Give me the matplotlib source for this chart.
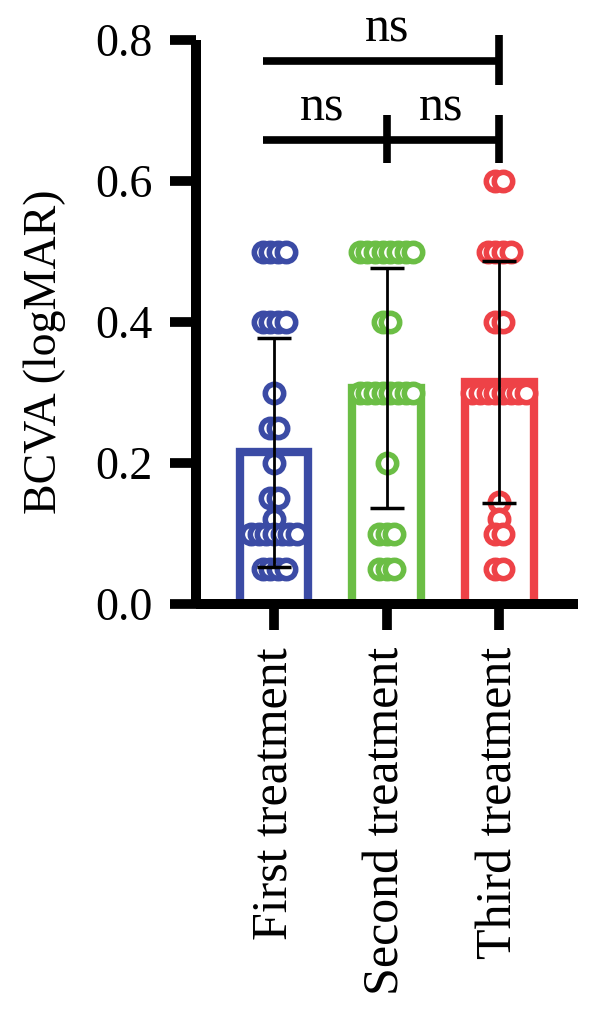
import numpy as np
import matplotlib
matplotlib.use("Agg")
import matplotlib.pyplot as plt

# Datos
groups = ["First treatment", "Second treatment", "Third treatment"]
colors = ["#3B4BA5", "#6BBE45", "#EE4247"]
means = [0.215, 0.306, 0.315]
sds = [0.162, 0.170, 0.172]

first_values = [0.5] * 4 + [0.4] * 4 + [0.3] + [0.25] * 2 + [0.2] + [0.15] * 2 + [0.12] + [0.1] * 7 + [0.05] * 4
second_values = [0.5] * 8 + [0.4] * 2 + [0.3] * 8 + [0.2] + [0.1] * 3 + [0.05] * 3
third_values = [0.6] * 2 + [0.5] * 4 + [0.4] * 2 + [0.3] * 8 + [0.145] + [0.12] + [0.1] * 2 + [0.05] * 2
all_values = [first_values, second_values, third_values]

ytick_values = [0.0, 0.2, 0.4, 0.6, 0.8]
ylabel = "BCVA (logMAR)"
comparisons = ["ns", "ns", "ns"]

FONT = "Liberation Serif"


def swarm_offsets(values, step=0.068):
    """Reparte horizontalmente los puntos con el mismo valor."""
    values = np.asarray(values)
    offsets = np.zeros(len(values))
    for v in np.unique(values):
        idx = np.where(values == v)[0]
        n = len(idx)
        offsets[idx] = (np.arange(n) - (n - 1) / 2) * step
    return offsets


fig = plt.figure(figsize=(6.0, 10.14), dpi=100)
ax = fig.add_axes([196 / 600, 1 - 604 / 1014, 382 / 600, 564 / 1014])

x = np.arange(len(groups))

# Barras huecas
ax.bar(x, means, width=0.61, facecolor="white", edgecolor=colors, linewidth=6, zorder=2)

# Puntos individuales
for i, vals in enumerate(all_values):
    xs = x[i] + swarm_offsets(vals)
    ax.scatter(xs, vals, s=175, facecolor="white", edgecolor=colors[i], linewidth=4, zorder=3)

# Barras de error (media +- DE)
ax.errorbar(x, means, yerr=sds, fmt="none", ecolor="black", elinewidth=2, capsize=12.5,
            capthick=2.5, zorder=4)

# Lineas de comparacion
lw = 5.5
ax.plot([-0.1, 2.0], [0.770, 0.770], color="black", lw=lw, clip_on=False, solid_capstyle="butt")
ax.plot([2.0, 2.0], [0.736, 0.807], color="black", lw=lw, clip_on=False, solid_capstyle="butt")
ax.plot([-0.1, 2.0], [0.658, 0.658], color="black", lw=lw, clip_on=False, solid_capstyle="butt")
for xt in [1.0, 2.0]:
    ax.plot([xt, xt], [0.626, 0.694], color="black", lw=lw, clip_on=False, solid_capstyle="butt")
ax.text(1.0, 0.782, comparisons[0], ha="center", va="bottom", fontsize=36, family=FONT)
ax.text(0.43, 0.670, comparisons[1], ha="center", va="bottom", fontsize=36, family=FONT)
ax.text(1.48, 0.670, comparisons[2], ha="center", va="bottom", fontsize=36, family=FONT)

# Ejes
ax.set_xlim(-0.693, 2.70)
ax.set_ylim(0, 0.8)
ax.set_yticks(ytick_values)
ax.set_yticklabels([f"{v:.1f}" for v in ytick_values], fontsize=33, family=FONT)
ax.set_xticks(x)
ax.set_xticklabels(groups, rotation=90, fontsize=36, family=FONT)
for side in ["top", "right"]:
    ax.spines[side].set_visible(False)
for side in ["left", "bottom"]:
    ax.spines[side].set_linewidth(7.2)
    ax.spines[side].set_capstyle("butt")
ax.tick_params(axis="both", length=19, width=7, pad=12, direction="out")

fig.text(45 / 600, 1 - 352 / 1014, ylabel, rotation=90, ha="center", va="center",
         fontsize=33, family=FONT)

fig.savefig("out.png", dpi=100)
